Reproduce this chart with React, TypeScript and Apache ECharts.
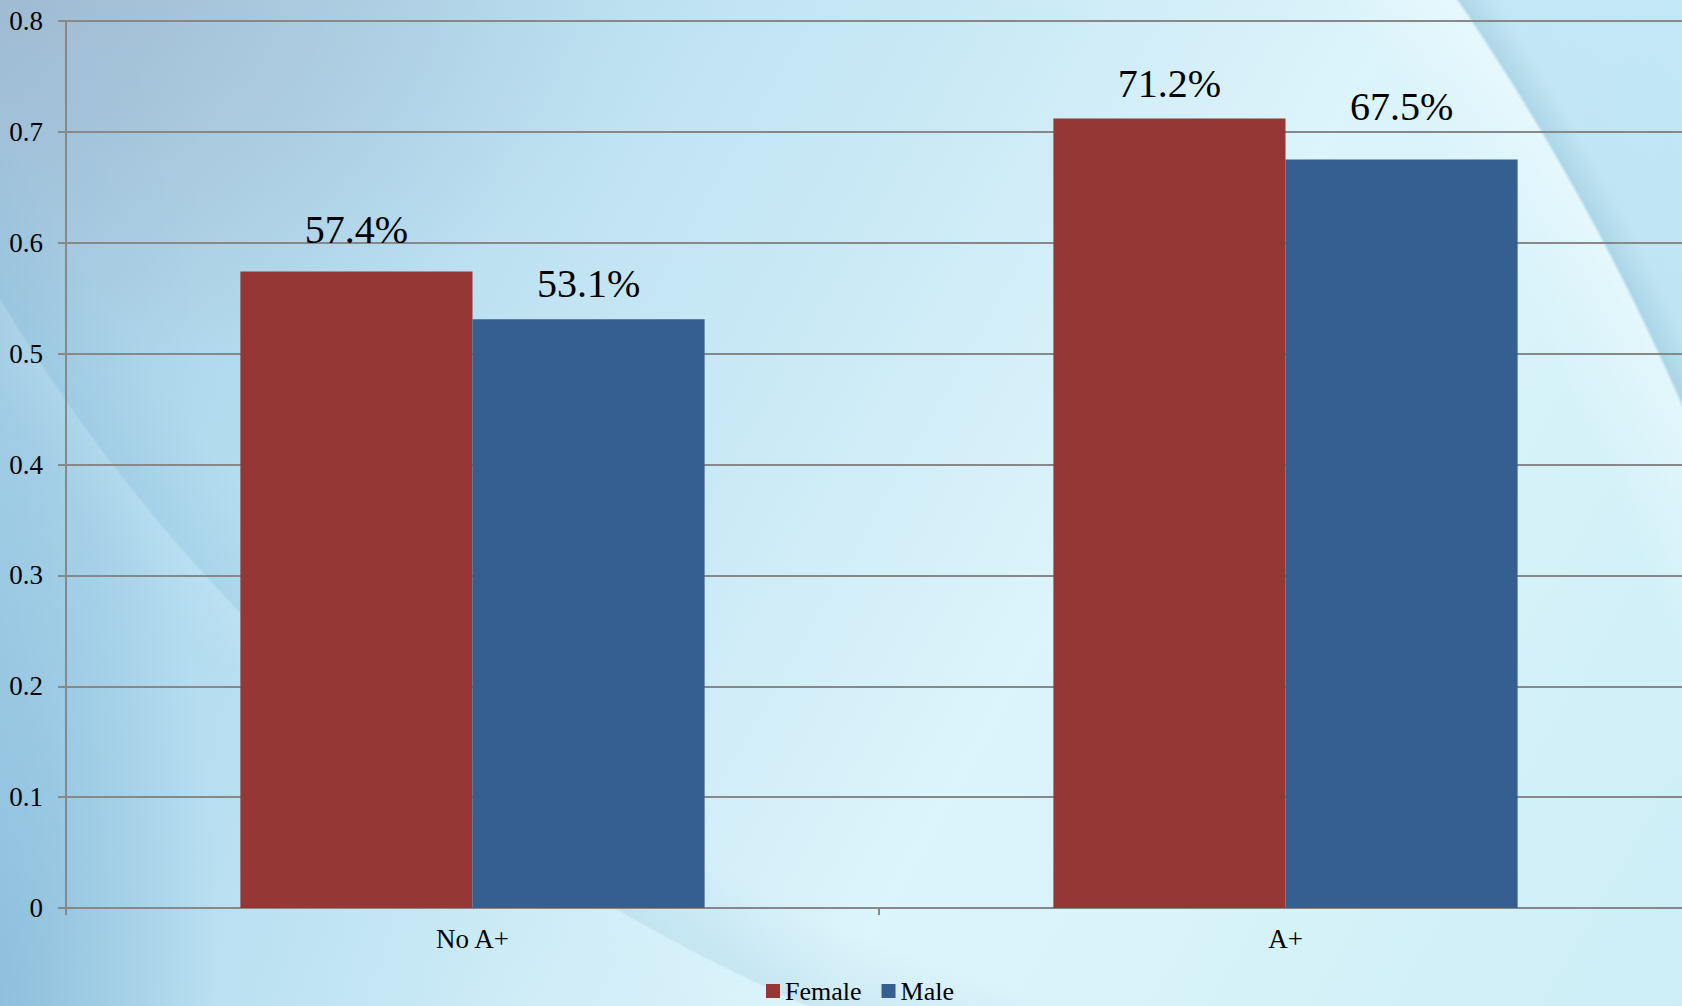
import React, { useEffect, useRef } from "react";
import * as echarts from "echarts";

const categories = ["No A+", "A+"];
const seriesNames = ["Female", "Male"];
const femaleValues = [0.574, 0.712];
const maleValues = [0.531, 0.675];
const yTicks = { min: 0, max: 0.8, interval: 0.1 };

const FONT = "'Liberation Serif', 'Times New Roman', serif";
const femaleLabelDist = [22, 15];
const maleLabelDist = [16, 33];

const bg = [
  // top-right swoosh
  "radial-gradient(circle 2497px at -603px 1407px, rgba(255,255,255,0) 96%, rgba(240,252,255,0.5) 99.85%, rgba(120,180,210,0.45) 100%, rgba(150,205,230,0.35) 101.2%, rgba(150,210,235,0.3) 110%)",
  // bottom swoosh
  "radial-gradient(circle 1750px at 1500px -600px, rgba(120,180,210,0) 95%, rgba(120,180,210,0.18) 99.85%, rgba(225,248,255,0.12) 100%, rgba(225,248,255,0) 103%)",
  "radial-gradient(ellipse 650px 380px at 0px 0px, rgba(160,182,205,0.7), rgba(160,182,205,0) 100%)",
  "radial-gradient(ellipse 220px 650px at 0px 1000px, rgba(120,170,205,0.5), rgba(120,170,205,0) 100%)",
  "linear-gradient(90deg, rgba(145,200,230,0.5) 0%, rgba(160,212,236,0.25) 12%, rgba(255,255,255,0) 30%)",
  "linear-gradient(120deg, #afcade 0%, #b9def0 22%, #cbeaf6 45%, #dcf4fb 62%, #d6f2f9 80%, #cdeef7 100%)",
].join(", ");

export default function App() {
  const ref = useRef<HTMLDivElement>(null);
  useEffect(() => {
    if (!ref.current) return;
    const chart = echarts.init(ref.current, undefined, { renderer: "svg" });
    const pct = (v: number) => (v * 100).toFixed(1) + "%";
    const labelBase = {
      show: true,
      position: "top",
      fontSize: 40,
      fontFamily: FONT,
      color: "#000",
      formatter: (p: any) => pct(p.value),
    };
    chart.setOption({
      animation: false,
      backgroundColor: "transparent",
      textStyle: { fontFamily: FONT },
      grid: {
        left: 66,
        top: 21,
        width: 1626,
        height: 887,
        containLabel: false,
        outerBoundsMode: "none",
      },
      legend: {
        data: seriesNames,
        left: 766,
        top: 978,
        padding: 0,
        icon: "rect",
        itemWidth: 14,
        itemHeight: 14,
        itemGap: 20,
        textStyle: { fontSize: 26, lineHeight: 26, fontFamily: FONT, color: "#000" },
      },
      xAxis: {
        type: "category",
        data: categories,
        axisLine: { lineStyle: { color: "#888888", width: 2 } },
        axisTick: { show: true, length: 7, lineStyle: { color: "#888888", width: 2 } },
        axisLabel: { fontSize: 27, fontFamily: FONT, color: "#000", margin: 17 },
      },
      yAxis: {
        type: "value",
        min: yTicks.min,
        max: yTicks.max,
        interval: yTicks.interval,
        axisLine: { show: true, lineStyle: { color: "#888888", width: 2 } },
        axisTick: { show: true, length: 8, lineStyle: { color: "#888888", width: 2 } },
        splitLine: { show: true, lineStyle: { color: "#888888", width: 2 } },
        axisLabel: { fontSize: 27, fontFamily: FONT, color: "#000", margin: 23 },
      },
      series: [
        {
          name: seriesNames[0],
          type: "bar",
          barGap: "0%",
          barCategoryGap: "42.9%",
          itemStyle: { color: "#953735" },
          data: femaleValues.map((v, i) => ({
            value: v,
            label: { ...labelBase, distance: femaleLabelDist[i] },
          })),
        },
        {
          name: seriesNames[1],
          type: "bar",
          barGap: "0%",
          barCategoryGap: "42.9%",
          itemStyle: { color: "#355f91" },
          data: maleValues.map((v, i) => ({
            value: v,
            label: { ...labelBase, distance: maleLabelDist[i] },
          })),
        },
      ],
    });
    return () => chart.dispose();
  }, []);
  return (
    <div
      style={{
        position: "fixed",
        left: 0,
        top: 0,
        width: 1682,
        height: 1006,
        background: bg,
        overflow: "hidden",
      }}
    >
      <div ref={ref} style={{ width: 1682, height: 1006 }} />
    </div>
  );
}
